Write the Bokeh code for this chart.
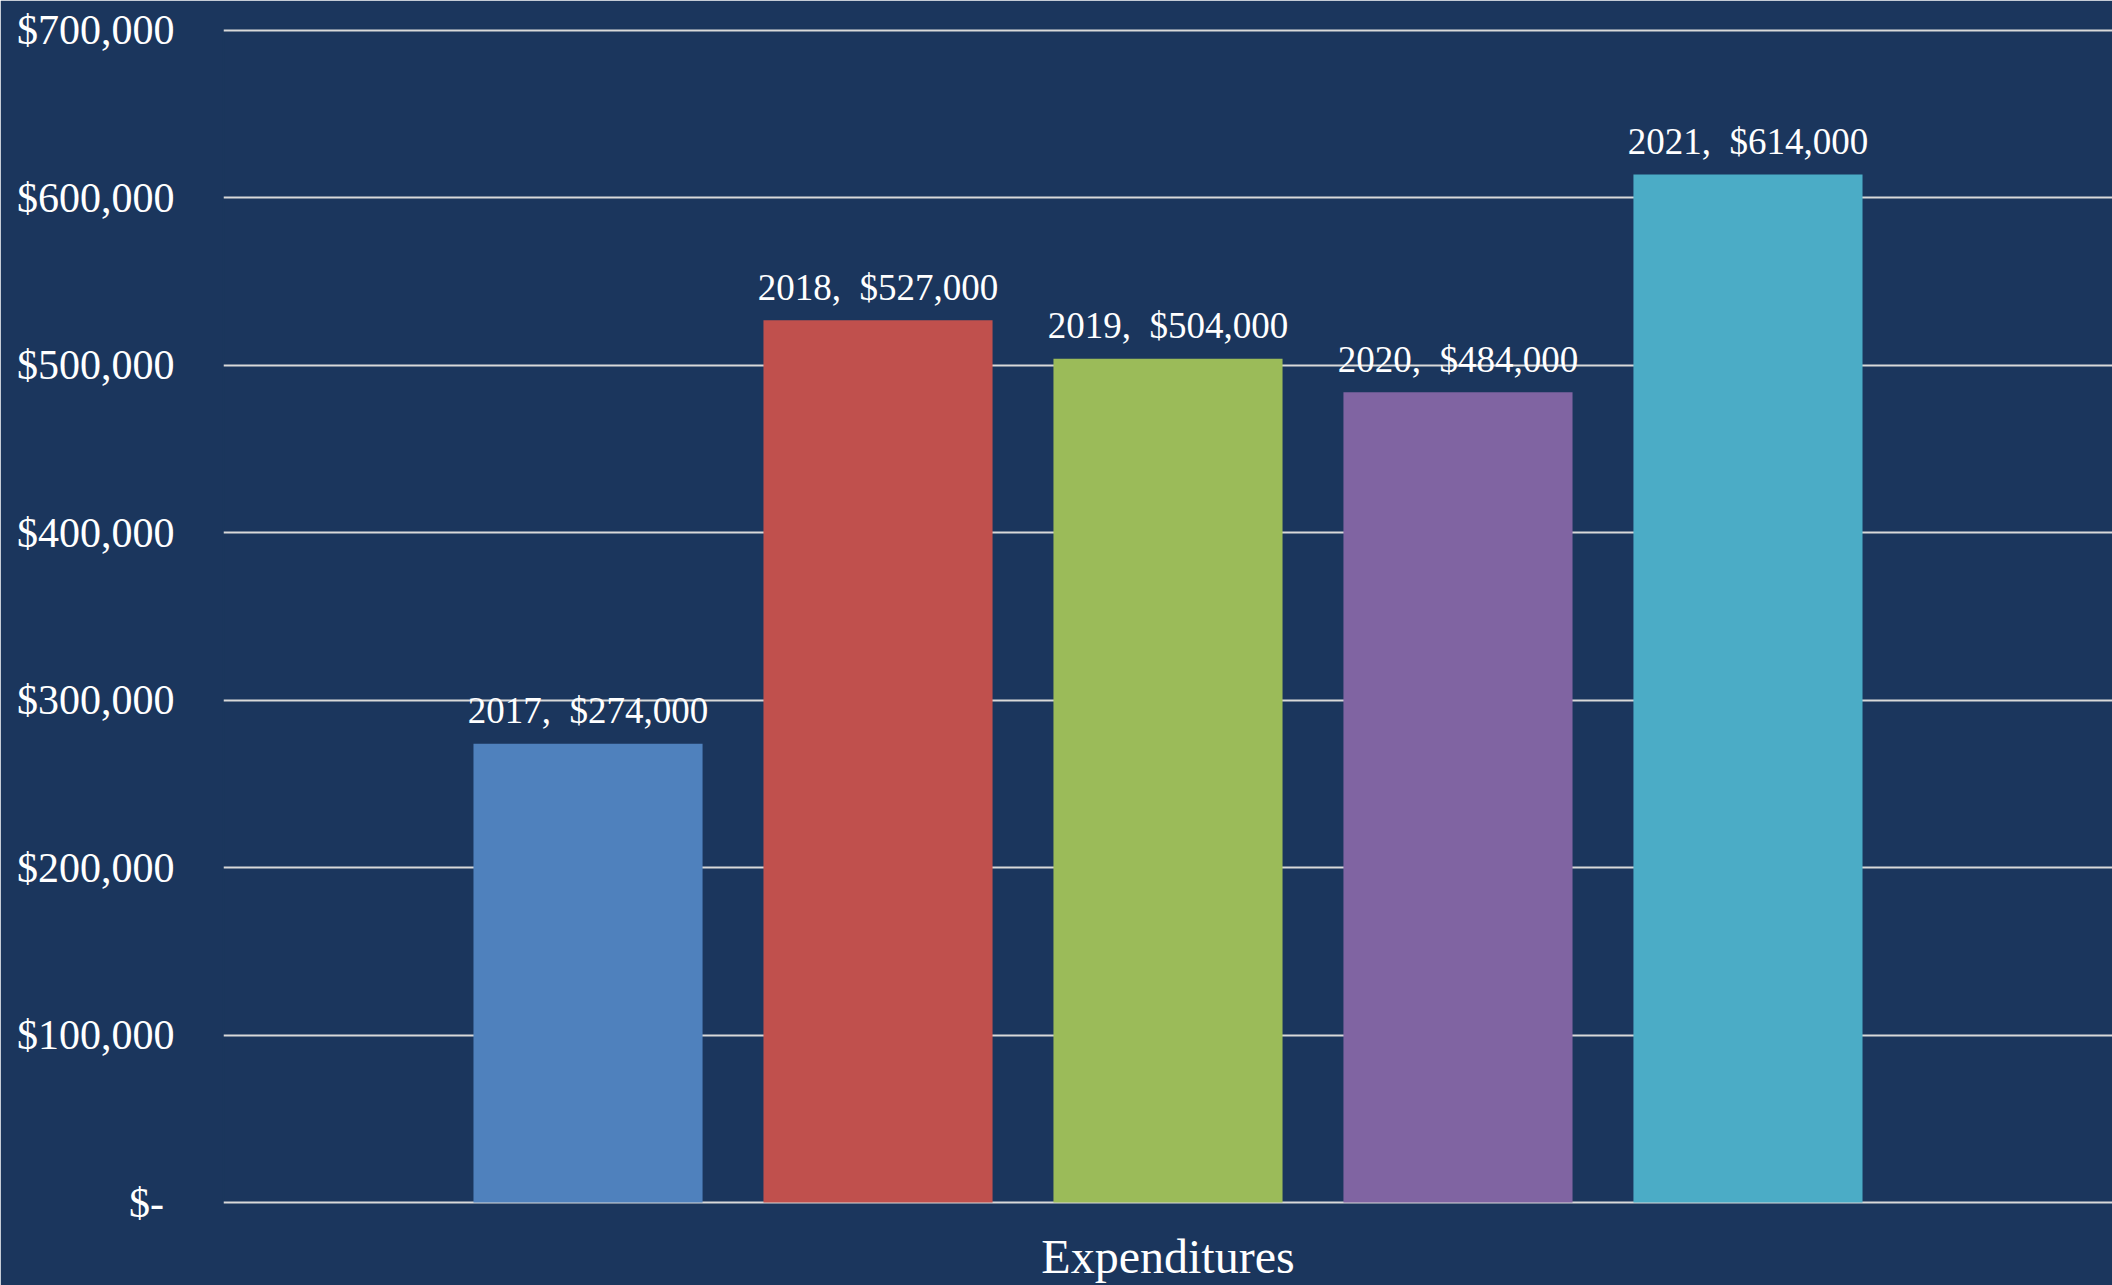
from bokeh.plotting import figure
from bokeh.models import Range1d, FixedTicker, ColumnDataSource
from bokeh.core.properties import value
from bokeh.embed import file_html
from bokeh.resources import INLINE

years = [2017, 2018, 2019, 2020, 2021]
expenditures = [274000, 527000, 504000, 484000, 614000]
bar_colors = ["#4F81BD", "#C0504D", "#9BBB59", "#8064A2", "#4BACC6"]
y_ticks = [0, 100000, 200000, 300000, 400000, 500000, 600000, 700000]
y_tick_labels = ["$-\u00a0", "$100,000", "$200,000", "$300,000", "$400,000",
                 "$500,000", "$600,000", "$700,000"]
category_label = "Expenditures"

BG = "#1b365d"
FONT = "Liberation Serif"

labels = [f"{y},\u00a0 ${v:,}" for y, v in zip(years, expenditures)]
src = ColumnDataSource(dict(x=years, top=expenditures, color=bar_colors, label=labels))

p = figure(width=2112, height=1285, output_backend="svg", toolbar_location=None,
           x_range=Range1d(2015.743, 2022.257), y_range=Range1d(-1194, 701194),
           min_border_left=223, min_border_right=0, min_border_top=28,
           min_border_bottom=80)
p.background_fill_color = BG
p.border_fill_color = BG
p.outline_line_color = BG
p.outline_line_width = 2

p.vbar(x="x", top="top", bottom=0, width=0.79, fill_color="color",
       line_color=None, source=src)
p.text(x="x", y="top", text="label", source=src, text_align="center",
       text_baseline="alphabetic", y_offset=-33, text_color="white",
       text_font=value(FONT), text_font_size="37px")

p.xgrid.grid_line_color = None
p.ygrid.grid_line_color = "#d9d9d9"
p.ygrid.grid_line_width = 2
p.ygrid.ticker = FixedTicker(ticks=y_ticks)

ya = p.yaxis[0]
ya.ticker = FixedTicker(ticks=y_ticks)
ya.major_label_overrides = {t: l for t, l in zip(y_ticks, y_tick_labels)}
ya.major_label_text_font = FONT
ya.major_label_text_font_size = "42px"
ya.major_label_text_color = "white"
ya.major_label_standoff = 43
ya.major_tick_line_color = None
ya.minor_tick_line_color = None
ya.axis_line_color = None

xa = p.xaxis[0]
xa.ticker = FixedTicker(ticks=[])
xa.major_label_text_font_size = "0px"
xa.major_label_standoff = 0
xa.major_tick_line_color = None
xa.minor_tick_line_color = None
xa.axis_line_color = None
xa.axis_label = category_label
xa.axis_label_text_font = FONT
xa.axis_label_text_font_style = "normal"
xa.axis_label_text_font_size = "48px"
xa.axis_label_text_color = "white"
xa.axis_label_standoff = 25

open("out.html", "w").write(file_html(p, INLINE))
